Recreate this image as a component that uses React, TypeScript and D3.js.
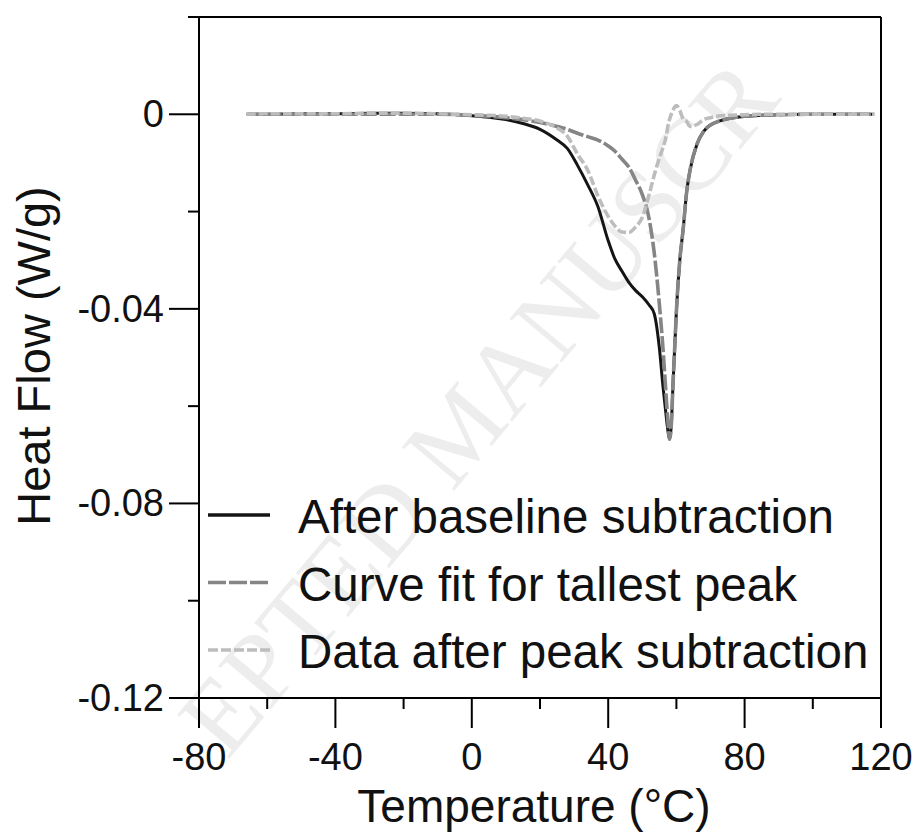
import React from "react";
import * as d3 from "d3";

// Temperature (°C)
const temps = [-66, -60, -50, -40, -30, -20, -10, 0, 5, 10, 15, 20, 25, 28, 31, 34, 37, 40, 42, 44, 46, 48, 50, 52, 53.5, 55, 56, 57, 57.5, 58, 58.5, 59, 59.5, 60, 61, 62, 63, 64, 66, 68, 70, 73, 76, 80, 85, 90, 100, 110, 118];

// Heat flow (W/g) after baseline subtraction
const afterBaseline = [0, 0, 0.0001, 0.0001, 0.0002, 0.0002, 0.0001, -0.0003, -0.0006, -0.0011, -0.0019, -0.0031, -0.0053, -0.007, -0.0105, -0.0145, -0.019, -0.026, -0.0298, -0.0322, -0.0345, -0.0362, -0.0375, -0.0392, -0.041, -0.048, -0.0555, -0.062, -0.065, -0.0668, -0.064, -0.0555, -0.048, -0.0405, -0.03, -0.0235, -0.016, -0.0115, -0.0062, -0.0035, -0.0022, -0.0013, -0.0008, -0.0004, -0.0002, -0.0001, 0, 0, 0];

// Curve fit for tallest peak
const curveFit = [0, 0, 0, 0, 0, 0, 0, -0.0002, -0.0004, -0.0007, -0.0011, -0.0017, -0.0025, -0.0031, -0.0039, -0.0046, -0.0053, -0.0065, -0.0076, -0.0092, -0.0108, -0.0135, -0.0165, -0.0215, -0.0285, -0.039, -0.0475, -0.058, -0.063, -0.0668, -0.064, -0.0555, -0.048, -0.0405, -0.03, -0.0235, -0.016, -0.0115, -0.0062, -0.0035, -0.0022, -0.0013, -0.0008, -0.0004, -0.0002, -0.0001, 0, 0, 0];

// Data after peak subtraction
const afterPeak = [0, 0.0001, 0.0001, 0.0001, 0.0002, 0.0002, 0.0001, -0.0001, -0.0002, -0.0004, -0.0008, -0.0014, -0.0028, -0.0045, -0.0082, -0.0115, -0.0168, -0.021, -0.023, -0.0242, -0.0243, -0.0232, -0.0212, -0.0165, -0.0125, -0.009, -0.007, -0.0045, -0.0025, -0.001, 0, 0.0008, 0.0015, 0.0018, 0.0008, -0.001, -0.0015, -0.0025, -0.0021, -0.0011, -0.0007, -0.0003, -0.0002, -0.0001, 0, 0, 0, 0, 0];

const xMajor = [-80, -40, 0, 40, 80, 120];
const xMinor = [-60, -20, 20, 60, 100];
const yMajor = [0, -0.04, -0.08, -0.12];
const yMinor = [0.02, -0.02, -0.06, -0.1];
const yLabels = ["0", "-0.04", "-0.08", "-0.12"];

const legendLabels = ["After baseline subtraction", "Curve fit for tallest peak", "Data after peak subtraction"];

const W = 917;
const H = 832;
const FONT = "'Liberation Sans', Arial, Helvetica, sans-serif";

export default function App() {
  const x = d3.scaleLinear().domain([-80, 120]).range([199, 881]);
  const y = d3.scaleLinear().domain([-0.12, 0.02]).range([698, 17]);

  const mk = (vals: number[]) =>
    d3
      .line<number>()
      .x((_, i) => x(temps[i]))
      .y((v) => y(v))
      .curve(d3.curveMonotoneX)(vals) || "";

  const series = [
    { vals: afterBaseline, color: "#151515", width: 3, dash: "none" },
    { vals: curveFit, color: "#858585", width: 3.6, dash: "16,3" },
    { vals: afterPeak, color: "#bdbdbd", width: 3.6, dash: "9,3" },
  ];

  const left = x(-80);
  const right = x(120);
  const top = y(0.02);
  const bottom = y(-0.12);
  const major = 30;
  const minor = 11;

  return (
    <svg
      width={W}
      height={H}
      style={{ position: "absolute", left: 0, top: 0, background: "#fff" }}
      fontFamily={FONT}
    >
      <rect x={0} y={0} width={W} height={H} fill="#fff" />
      {/* faint watermark */}
      <text
        x={0}
        y={0}
        transform="translate(505 430) rotate(-50)"
        textAnchor="middle"
        fontFamily="'Liberation Serif', 'DejaVu Serif', serif"
        fontSize={104}
        fill="#ededed"
      >
        EPTED MANUSCR
      </text>

      {/* series */}
      {series.map((s, i) => (
        <path
          key={i}
          d={mk(s.vals)}
          fill="none"
          stroke={s.color}
          strokeWidth={s.width}
          strokeDasharray={s.dash}
          strokeLinejoin="round"
        />
      ))}

      {/* frame */}
      <g stroke="#000" strokeWidth={2} fill="none">
        <line x1={left} x2={right} y1={bottom} y2={bottom} />
        <line x1={left} x2={right} y1={top} y2={top} />
        <line x1={left} x2={left} y1={top} y2={bottom} />
        <line x1={right} x2={right} y1={top} y2={bottom} />
        {xMajor.map((t) => (
          <line key={"xM" + t} x1={x(t)} x2={x(t)} y1={bottom} y2={bottom + major} />
        ))}
        {xMinor.map((t) => (
          <line key={"xm" + t} x1={x(t)} x2={x(t)} y1={bottom} y2={bottom + minor} />
        ))}
        {yMajor.map((t) => (
          <line key={"yM" + t} x1={left - major} x2={left} y1={y(t)} y2={y(t)} />
        ))}
        {yMinor.map((t) => (
          <line key={"ym" + t} x1={left - minor} x2={left} y1={y(t)} y2={y(t)} />
        ))}
      </g>

      {/* tick labels */}
      <g fontSize={38} fill="#111">
        {xMajor.map((t) => (
          <text key={"xl" + t} x={x(t)} y={770} textAnchor="middle">
            {String(t)}
          </text>
        ))}
        {yMajor.map((t, i) => (
          <text key={"yl" + t} x={164} y={y(t) + 13} textAnchor="end">
            {yLabels[i]}
          </text>
        ))}
      </g>

      {/* axis titles */}
      <text x={534} y={822} textAnchor="middle" fontSize={46} fill="#111">
        Temperature (°C)
      </text>
      <text
        x={0}
        y={0}
        transform="translate(50 356) rotate(-90)"
        textAnchor="middle"
        fontSize={47}
        fill="#111"
      >
        Heat Flow (W/g)
      </text>

      {/* legend */}
      {legendLabels.map((lab, i) => {
        const s = series[i];
        const base = 533 + i * 67.5;
        return (
          <g key={"lg" + i}>
            <line
              x1={208}
              x2={270}
              y1={base - 18}
              y2={base - 18}
              stroke={s.color}
              strokeWidth={i === 0 ? 3.5 : 3.6}
              strokeDasharray={i === 0 ? "none" : i === 1 ? "18,3" : "10,3"}
            />
            <text x={298} y={base} fontSize={47.5} fill="#111">
              {lab}
            </text>
          </g>
        );
      })}
    </svg>
  );
}
